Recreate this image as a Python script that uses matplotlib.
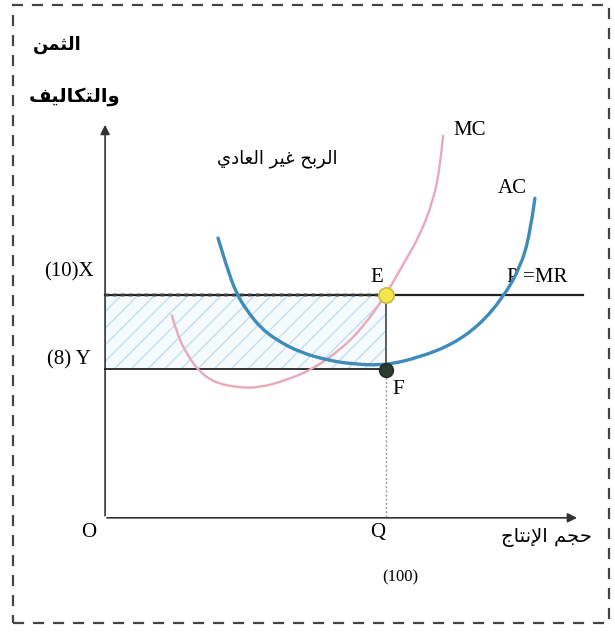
import numpy as np
import matplotlib
matplotlib.use("Agg")
import matplotlib.pyplot as plt
from matplotlib.path import Path
from matplotlib.patches import PathPatch, Rectangle

# كميات الإنتاج والأسعار (Q, P)
ac_q = [40.2, 43.4, 46.6, 50.5, 55.2, 61.2, 69.4, 79.0, 88.3, 100.0, 112.1, 123.8, 133.5, 141.6, 147.7, 151.2, 153.0]
ac_p = [11.52, 10.72, 10.05, 9.57, 9.12, 8.77, 8.45, 8.24, 8.13, 8.10, 8.32, 8.67, 9.20, 9.92, 10.72, 11.60, 12.59]

mc_q = [23.8, 25.6, 29.2, 32.7, 38.4, 47.0, 55.2, 64.8, 74.0, 83.6, 91.8, 100.0, 106.0, 112.1, 116.7, 119.2, 120.3]
mc_p = [9.44, 8.93, 8.40, 8.00, 7.65, 7.50, 7.50, 7.71, 8.00, 8.51, 9.12, 10.0, 10.8, 11.6, 12.51, 13.39, 14.27]

price_x = 10      # P = MR
cost_y = 8        # متوسط التكلفة عند Q
q_eq = 100
q_max = 170
axis_p0 = 4.0     # مستوى المحور الأفقي
axis_q_end = 169
axis_p_end = 14.64

# نصوص عربية مكتوبة بأشكال العرض (من اليسار لليمين)
txt_price = "\uFEE6\uFEE4\uFE9C\uFEDF\uFE8D"
txt_costs = "\uFED2\uFEF4\uFEDF\uFE8E\uFEDC\uFE98\uFEDF\uFE8D\uFEED"
txt_profit = ("\uFEF1\uFEA9\uFE8E\uFECC\uFEDF\uFE8D" + " " +
              "\uFEAE\uFEF4\uFECF" + " " +
              "\uFEA2\uFE91\uFEAE\uFEDF\uFE8D")
txt_output = ("\uFE9D\uFE8E\uFE98\uFEE7\uFEF9\uFE8D" + " " +
              "\uFEE2\uFEA0\uFEA3")


def smooth_path(xs, ys):
    pts = np.column_stack([xs, ys])
    verts = [pts[0]]
    codes = [Path.MOVETO]
    n = len(pts)
    for i in range(1, n - 1):
        end = (pts[i] + pts[i + 1]) / 2 if i < n - 2 else pts[i + 1]
        verts += [pts[i], end]
        codes += [Path.CURVE3, Path.CURVE3]
    return Path(verts, codes)


fig = plt.figure(figsize=(6.15, 6.35), dpi=100)
ax = fig.add_axes([0, 0, 1, 1])
ax.set_xlim(-37.4, 181.5)
ax.set_ylim(0.85, 17.92)
ax.axis("off")

serif = ["Liberation Serif", "DejaVu Serif"]
arab = ["DejaVu Sans"]

# منطقة الربح غير العادي
ax.add_patch(Rectangle((0, cost_y), q_eq, price_x - cost_y,
                       facecolor="#f5fafd", edgecolor="#c2dff0",
                       hatch="//", linewidth=0, zorder=1))

# المحاور
ax.annotate("", xy=(axis_q_end, axis_p0), xytext=(-0.3, axis_p0),
            arrowprops=dict(arrowstyle="-|>", color="#333333", lw=1.2,
                            mutation_scale=14), zorder=3)
ax.annotate("", xy=(0, axis_p_end), xytext=(0, axis_p0 - 0.02),
            arrowprops=dict(arrowstyle="-|>", color="#333333", lw=1.2,
                            mutation_scale=14), zorder=3)

# خطا السعر والتكلفة
ax.plot([0, q_max], [price_x, price_x], color="#222222", lw=1.6, zorder=4)
ax.plot([0, q_eq], [price_x, price_x], color="#555555", lw=2.6,
        ls=(0, (1, 1.2)), alpha=0.6, zorder=4)
ax.plot([0, q_eq], [cost_y, cost_y], color="#222222", lw=1.3, zorder=4)
ax.plot([q_eq, q_eq], [price_x, cost_y], color="#333333", lw=1.1, zorder=4)
ax.plot([q_eq, q_eq], [cost_y, axis_p0], color="#999999", lw=1.0,
        ls=(0, (1.5, 1.5)), zorder=2)

# منحنيات التكاليف
ax.add_patch(PathPatch(smooth_path(mc_q, mc_p), fill=False,
                       edgecolor="#eaa9b8", lw=1.7, capstyle="round", zorder=5))
ax.add_patch(PathPatch(smooth_path(ac_q, ac_p), fill=False,
                       edgecolor="#3f8bba", lw=2.4, capstyle="round", zorder=6))

# نقطتا E و F
ax.plot(q_eq, price_x, "o", ms=11, mfc="#f3e64a", mec="#c9b84a", mew=1.2, zorder=8)
ax.plot(q_eq, cost_y - 0.03, "o", ms=10, mfc="#2a3b31", mec="#1d2a22", zorder=8)

# التسميات
ax.text(-17.1, 16.72, txt_price, family=arab, fontsize=13, fontweight="bold",
        ha="center", va="center")
ax.text(-11.0, 15.33, txt_costs, family=arab, fontsize=14, fontweight="bold",
        ha="center", va="center")
ax.text(61.2, 13.65, txt_profit, family=arab, fontsize=13, ha="center", va="center")
ax.text(157.0, 3.47, txt_output, family=arab, fontsize=14, ha="center", va="center")

ax.text(129.9, 14.4, "MC", family=serif, fontsize=15, ha="center", va="center")
ax.text(144.8, 12.85, "AC", family=serif, fontsize=15, ha="center", va="center")
ax.text(153.7, 10.45, "P =MR", family=serif, fontsize=15, ha="center", va="center")
ax.text(96.8, 10.45, "E", family=serif, fontsize=15, ha="center", va="center")
ax.text(104.3, 7.44, "F", family=serif, fontsize=15, ha="center", va="center")
ax.text(-13.0, 10.6, "(10)X", family=serif, fontsize=15, ha="center", va="center")
ax.text(-13.0, 8.25, "(8) Y", family=serif, fontsize=15, ha="center", va="center")
ax.text(-6.0, 3.6, "O", family=serif, fontsize=15, ha="center", va="center")
ax.text(97.2, 3.6, "Q", family=serif, fontsize=15, ha="center", va="center")
ax.text(105.0, 2.4, "(100)", family=serif, fontsize=12, ha="center", va="center")

# الإطار المتقطع
fig.patches.append(Rectangle((13 / 615, 1 - 623 / 635), 596 / 615, 618 / 635,
                             transform=fig.transFigure, fill=False,
                             edgecolor="#444444", lw=1.6, ls=(0, (5, 4))))

fig.savefig("out.png", dpi=100)
